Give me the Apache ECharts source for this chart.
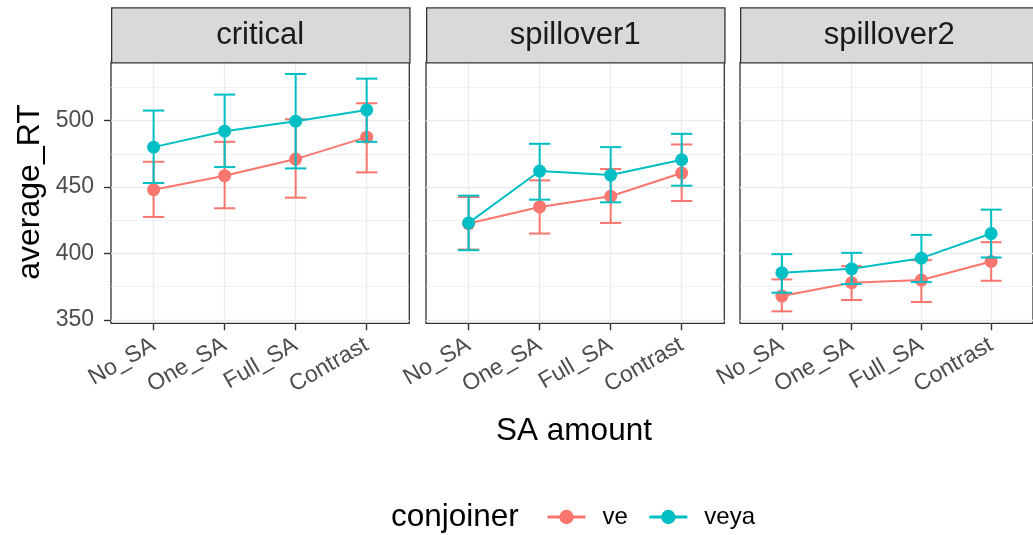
<!DOCTYPE html>
<html>
<head>
<meta charset="utf-8">
<script src="https://cdn.jsdelivr.net/npm/echarts@6/dist/echarts.min.js"></script>
<style>
html,body{margin:0;padding:0;background:#fff;}
#chart{width:1033px;height:535px;}
</style>
</head>
<body>
<div id="chart"></div>
<script>
// ---- data ----
const categories = ['No_SA', 'One_SA', 'Full_SA', 'Contrast'];
const panels = ['critical', 'spillover1', 'spillover2'];
const groups = ['ve', 'veya'];
// per panel (critical, spillover1, spillover2), per category
const veMean   = [[448, 458.5, 471, 487.5], [422.5, 435, 443, 460.5], [368, 378, 380, 394]];
const veLow    = [[427.5, 434, 442, 461],   [403, 415, 423, 439.5],   [356.5, 365, 363.5, 379.5]];
const veHigh   = [[469, 484, 501, 513],     [442.5, 455, 463.5, 482], [380.5, 390.5, 395, 408.5]];
const veyaMean = [[480, 492, 499.5, 508],   [423, 462, 459, 470.5],   [385.5, 388.5, 396.5, 415]];
const veyaLow  = [[453, 465, 464, 484],     [402.5, 440.5, 438.5, 451], [370.5, 377, 378.5, 397]];
const veyaHigh = [[507.5, 519.5, 535, 531.5], [443.5, 482.5, 480, 490], [399.5, 400.5, 414, 433]];
const yTicks = [350, 400, 450, 500];
const yMinorTicks = [375, 425, 475, 525];
const colors = ['#F8766D', '#00BFC4'];

// ---- layout ----
const panelLeft = [111, 426, 740];
const panelWidth = 298.3;
const panelTop = 62.3;
const panelHeight = 261;
const stripTop = 7.3;
const FONT = '"Liberation Sans", Arial, Helvetica, sans-serif';

const grids = [], xAxes = [], yAxes = [], series = [], graphics = [];

panels.forEach((name, p) => {
  grids.push({
    left: panelLeft[p], top: panelTop, width: panelWidth, height: panelHeight,
    show: true, backgroundColor: '#ffffff', borderColor: '#333333', borderWidth: 1.3, z: 0
  });
  xAxes.push({
    type: 'value', gridIndex: p, min: -0.6, max: 3.6, position: 'bottom',
    axisLine: { show: false, onZero: false },
    axisTick: { show: true, inside: false, customValues: [0, 1, 2, 3], length: 7, lineStyle: { color: '#333333', width: 1.4 } },
    axisLabel: {
      show: true, customValues: [0, 1, 2, 3], rotate: 30, margin: 20,
      formatter: v => categories[Math.round(v)] || '',
      color: '#4d4d4d', fontSize: 23, fontFamily: FONT
    },
    splitLine: { show: true, lineStyle: { color: '#ebebeb', width: 1.3 } }
  });
  // major y axis
  yAxes.push({
    type: 'value', gridIndex: p, min: 347.5, max: 543.8, position: 'left',
    axisLine: { show: false, onZero: false },
    axisTick: { show: p === 0, inside: false, customValues: yTicks, length: 7, lineStyle: { color: '#333333', width: 1.4 } },
    axisLabel: { show: p === 0, customValues: yTicks, color: '#4d4d4d', fontSize: 23, fontFamily: FONT, margin: 17 },
    splitLine: { show: true, lineStyle: { color: '#ebebeb', width: 1.3 } }
  });
  // minor y gridlines
  yAxes.push({
    type: 'value', gridIndex: p, min: 347.5, max: 543.8, position: 'right',
    axisLine: { show: false, onZero: false },
    axisTick: { show: false, customValues: yMinorTicks },
    axisLabel: { show: false, customValues: yMinorTicks },
    splitLine: { show: true, lineStyle: { color: '#ebebeb', width: 0.7 } }
  });

  const stats = [
    [veMean[p], veLow[p], veHigh[p]],
    [veyaMean[p], veyaLow[p], veyaHigh[p]]
  ];
  groups.forEach((g, gi) => {
    const [m, lo, hi] = stats[gi];
    series.push({
      type: 'custom', name: g + ' error', xAxisIndex: p, yAxisIndex: p * 2, z: 3 + gi * 2,
      data: categories.map((c, i) => [i, lo[i], hi[i]]),
      renderItem: (params, api) => {
        const x = api.value(0);
        const a = api.coord([x, api.value(1)]);
        const b = api.coord([x, api.value(2)]);
        const half = api.size([0.3, 0])[0] / 2;
        const st = { stroke: colors[gi], lineWidth: 2 };
        return {
          type: 'group', children: [
            { type: 'line', shape: { x1: a[0], y1: a[1], x2: b[0], y2: b[1] }, style: st },
            { type: 'line', shape: { x1: a[0] - half, y1: a[1], x2: a[0] + half, y2: a[1] }, style: st },
            { type: 'line', shape: { x1: b[0] - half, y1: b[1], x2: b[0] + half, y2: b[1] }, style: st }
          ]
        };
      },
      silent: true
    });
    series.push({
      type: 'line', name: g, xAxisIndex: p, yAxisIndex: p * 2, z: 4 + gi * 2,
      data: categories.map((c, i) => [i, m[i]]),
      symbol: 'circle', symbolSize: 13, showSymbol: true,
      lineStyle: { color: colors[gi], width: 2 },
      itemStyle: { color: colors[gi] },
      silent: true, animation: false
    });
  });

  // strip
  graphics.push({
    type: 'rect', left: panelLeft[p], top: stripTop,
    shape: { width: panelWidth, height: panelTop - stripTop },
    style: { fill: '#d9d9d9', stroke: '#333333', lineWidth: 1.3 }, z: 10
  });
  graphics.push({
    type: 'text', x: panelLeft[p] + panelWidth / 2, y: (stripTop + panelTop) / 2 + 1,
    style: { text: name, fill: '#1a1a1a', font: '31px ' + FONT, textAlign: 'center', textVerticalAlign: 'middle' }, z: 11
  });
});

// axis titles
graphics.push({
  type: 'text', x: 574, y: 431,
  style: { text: 'SA amount', fill: '#000000', font: '31.5px ' + FONT, textAlign: 'center', textVerticalAlign: 'middle' }, z: 11
});
graphics.push({
  type: 'text', x: 30, y: 192, rotation: Math.PI / 2,
  style: { text: 'average_RT', fill: '#000000', font: '32px ' + FONT, textAlign: 'center', textVerticalAlign: 'middle' }, z: 11
});
graphics.push({
  type: 'text', x: 391, y: 517,
  style: { text: 'conjoiner', fill: '#000000', font: '31.5px ' + FONT, textAlign: 'left', textVerticalAlign: 'middle' }, z: 11
});

const chart = echarts.init(document.getElementById('chart'), null, { renderer: 'canvas' });
chart.setOption({
  animation: false,
  backgroundColor: '#ffffff',
  grid: grids,
  xAxis: xAxes,
  yAxis: yAxes,
  series: series,
  legend: {
    data: groups,
    left: 541, top: 500, itemWidth: 38, itemHeight: 18, itemGap: 20,
    lineStyle: { width: 3 },
    textStyle: { fontSize: 24, fontFamily: FONT, color: '#000000', padding: [0, 0, 0, 12] },
    selectedMode: false
  },
  graphic: graphics
});
</script>
</body>
</html>
